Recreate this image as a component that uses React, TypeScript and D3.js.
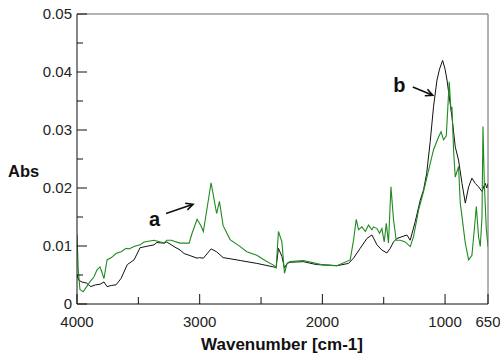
import React from "react";
import * as d3 from "d3";

// black spectrum (b)
const blackWave = [4000, 3985, 3960, 3921, 3888, 3850, 3812, 3780, 3755, 3720, 3682, 3641, 3590, 3535, 3486, 3420, 3372, 3350, 3290, 3268, 3209, 3160, 3127, 3086, 3021, 3002, 2970, 2907, 2862, 2809, 2752, 2670, 2534, 2399, 2377, 2358, 2330, 2309, 2287, 2263, 2154, 2050, 1936, 1882, 1787, 1746, 1692, 1637, 1596, 1555, 1515, 1474, 1447, 1420, 1392, 1351, 1311, 1284, 1243, 1202, 1175, 1150, 1121, 1094, 1066, 1045, 1020, 1000, 984, 944, 917, 890, 862, 835, 808, 781, 754, 727, 699, 680, 672, 660, 650];
const blackAbs = [0.0050, 0.0041, 0.0038, 0.0036, 0.0030, 0.0033, 0.0034, 0.0038, 0.0030, 0.0032, 0.0033, 0.0044, 0.0068, 0.0076, 0.0097, 0.0100, 0.0102, 0.0106, 0.0105, 0.0107, 0.0099, 0.0093, 0.0087, 0.0084, 0.0079, 0.0080, 0.0079, 0.0095, 0.0090, 0.0080, 0.0078, 0.0075, 0.0070, 0.0064, 0.0063, 0.0096, 0.0082, 0.0062, 0.0070, 0.0072, 0.0073, 0.0068, 0.0067, 0.0066, 0.0070, 0.0079, 0.0096, 0.0113, 0.0119, 0.0102, 0.0093, 0.0088, 0.0096, 0.0107, 0.0113, 0.0116, 0.0119, 0.0110, 0.0142, 0.0179, 0.0197, 0.0225, 0.0280, 0.0340, 0.0386, 0.0405, 0.0420, 0.0405, 0.0386, 0.0323, 0.0271, 0.0248, 0.0208, 0.0174, 0.0202, 0.0217, 0.0208, 0.0202, 0.0194, 0.0205, 0.0208, 0.0200, 0.0208];

// green spectrum (a)
const greenWave = [4000, 3990, 3976, 3950, 3921, 3888, 3861, 3837, 3812, 3780, 3755, 3720, 3682, 3641, 3600, 3576, 3535, 3486, 3453, 3372, 3290, 3268, 3233, 3160, 3086, 3062, 3021, 2990, 2970, 2907, 2862, 2839, 2809, 2752, 2670, 2616, 2534, 2467, 2399, 2377, 2358, 2330, 2309, 2287, 2263, 2154, 1991, 1882, 1773, 1746, 1724, 1705, 1678, 1650, 1624, 1596, 1583, 1555, 1534, 1515, 1496, 1479, 1461, 1441, 1420, 1398, 1365, 1325, 1284, 1257, 1216, 1175, 1147, 1094, 1053, 1033, 1012, 990, 966, 952, 944, 931, 917, 890, 876, 835, 808, 781, 762, 745, 727, 713, 699, 691, 680, 664, 650];
const greenAbs = [0.0120, 0.0060, 0.0025, 0.0021, 0.0030, 0.0040, 0.0047, 0.0059, 0.0064, 0.0044, 0.0076, 0.0080, 0.0087, 0.0090, 0.0096, 0.0095, 0.0099, 0.0102, 0.0107, 0.0110, 0.0105, 0.0110, 0.0110, 0.0105, 0.0105, 0.0122, 0.0146, 0.0135, 0.0125, 0.0209, 0.0156, 0.0177, 0.0135, 0.0111, 0.0099, 0.0090, 0.0084, 0.0075, 0.0067, 0.0062, 0.0125, 0.0107, 0.0053, 0.0070, 0.0073, 0.0075, 0.0067, 0.0066, 0.0076, 0.0110, 0.0146, 0.0128, 0.0133, 0.0125, 0.0136, 0.0128, 0.0133, 0.0130, 0.0122, 0.0130, 0.0107, 0.0139, 0.0105, 0.0202, 0.0145, 0.0110, 0.0110, 0.0107, 0.0099, 0.0116, 0.0162, 0.0194, 0.0219, 0.0266, 0.0288, 0.0297, 0.0283, 0.0290, 0.0383, 0.0334, 0.0340, 0.0266, 0.0219, 0.0237, 0.0174, 0.0105, 0.0076, 0.0084, 0.0128, 0.0168, 0.0116, 0.0099, 0.0150, 0.0306, 0.0208, 0.0130, 0.0099];

const xTickValues = [4000, 3000, 2000, 1000, 650];
const xMinorTicks = [3500, 2500, 1500];
const yTickValues = [0, 0.01, 0.02, 0.03, 0.04, 0.05];
const yTickLabels = ["0", "0.01", "0.02", "0.03", "0.04", "0.05"];
const yMinorTicks = [0.005, 0.015, 0.025, 0.035, 0.045];

const W = 500, H = 356;
const left = 77, right = 488, top = 14, bottom = 304;
const font = "Liberation Sans, Arial, sans-serif";

export default function App() {
  const x = d3.scaleLinear().domain([4000, 650]).range([left, right]);
  const y = d3.scaleLinear().domain([0, 0.05]).range([bottom, top]);

  const line = d3.line<[number, number]>()
    .x(d => x(d[0]))
    .y(d => y(d[1]));

  const black = blackWave.map((w, i) => [w, blackAbs[i]] as [number, number]);
  const green = greenWave.map((w, i) => [w, greenAbs[i]] as [number, number]);

  const arrow = (x1: number, y1: number, x2: number, y2: number) => {
    const a = Math.atan2(y2 - y1, x2 - x1);
    const h = 8, s = 0.45;
    const p1 = [x2 - h * Math.cos(a - s), y2 - h * Math.sin(a - s)];
    const p2 = [x2 - h * Math.cos(a + s), y2 - h * Math.sin(a + s)];
    return `M${x1},${y1}L${x2},${y2}M${p1[0]},${p1[1]}L${x2},${y2}L${p2[0]},${p2[1]}`;
  };

  return (
    <svg width={W} height={H} style={{ position: "absolute", left: 0, top: 0, background: "#fff" }}>
      <rect x={0} y={0} width={W} height={H} fill="#fff" />
      <g clipPath="url(#plot)">
        <defs>
          <clipPath id="plot">
            <rect x={left} y={top} width={right - left} height={bottom - top} />
          </clipPath>
        </defs>
        <path d={line(black) || ""} fill="none" stroke="#111" strokeWidth={1} />
        <path d={line(green) || ""} fill="none" stroke="#1f8a1f" strokeWidth={1.1} />
      </g>

      {/* frame */}
      <line x1={left} x2={right} y1={top} y2={top} stroke="#666" />
      <line x1={right} x2={right} y1={top} y2={bottom} stroke="#666" />
      <line x1={left} x2={left} y1={top} y2={bottom} stroke="#111" />
      <line x1={left} x2={right} y1={bottom} y2={bottom} stroke="#111" />

      {/* y ticks */}
      {yTickValues.map((v, i) => (
        <g key={"y" + v}>
          <line x1={left} x2={left + 10} y1={y(v)} y2={y(v)} stroke="#111" />
          <text x={72} y={y(v)} dy="0.36em" textAnchor="end" fontFamily={font} fontSize={15} fill="#222">{yTickLabels[i]}</text>
        </g>
      ))}
      {yMinorTicks.map(v => (
        <line key={"ym" + v} x1={left} x2={left + 6} y1={y(v)} y2={y(v)} stroke="#111" />
      ))}

      {/* x ticks */}
      {xTickValues.map(v => (
        <g key={"x" + v}>
          <line x1={x(v)} x2={x(v)} y1={bottom} y2={bottom - 10} stroke="#111" />
          <text x={x(v)} y={326.5} textAnchor="middle" fontFamily={font} fontSize={15} fill="#222">{v}</text>
        </g>
      ))}
      {xMinorTicks.map(v => (
        <line key={"xm" + v} x1={x(v)} x2={x(v)} y1={bottom} y2={bottom - 7} stroke="#111" />
      ))}

      <text x={8} y={176.5} fontFamily={font} fontSize={16.5} fontWeight="bold" fill="#111">Abs</text>
      <text x={282} y={350} textAnchor="middle" fontFamily={font} fontSize={17} fontWeight="bold" fill="#111">Wavenumber [cm-1]</text>

      {/* annotations */}
      <text x={x(3413)} y={y(0.0134)} fontFamily={font} fontSize={20} fontWeight="bold" fill="#111">a</text>
      <path d={arrow(x(3274), y(0.0156), x(3054), y(0.0172))} fill="none" stroke="#111" strokeWidth={1.6} />
      <text x={x(1422)} y={y(0.0366)} fontFamily={font} fontSize={20} fontWeight="bold" fill="#111">b</text>
      <path d={arrow(x(1263), y(0.0374), x(1100), y(0.036))} fill="none" stroke="#111" strokeWidth={1.6} />
    </svg>
  );
}
